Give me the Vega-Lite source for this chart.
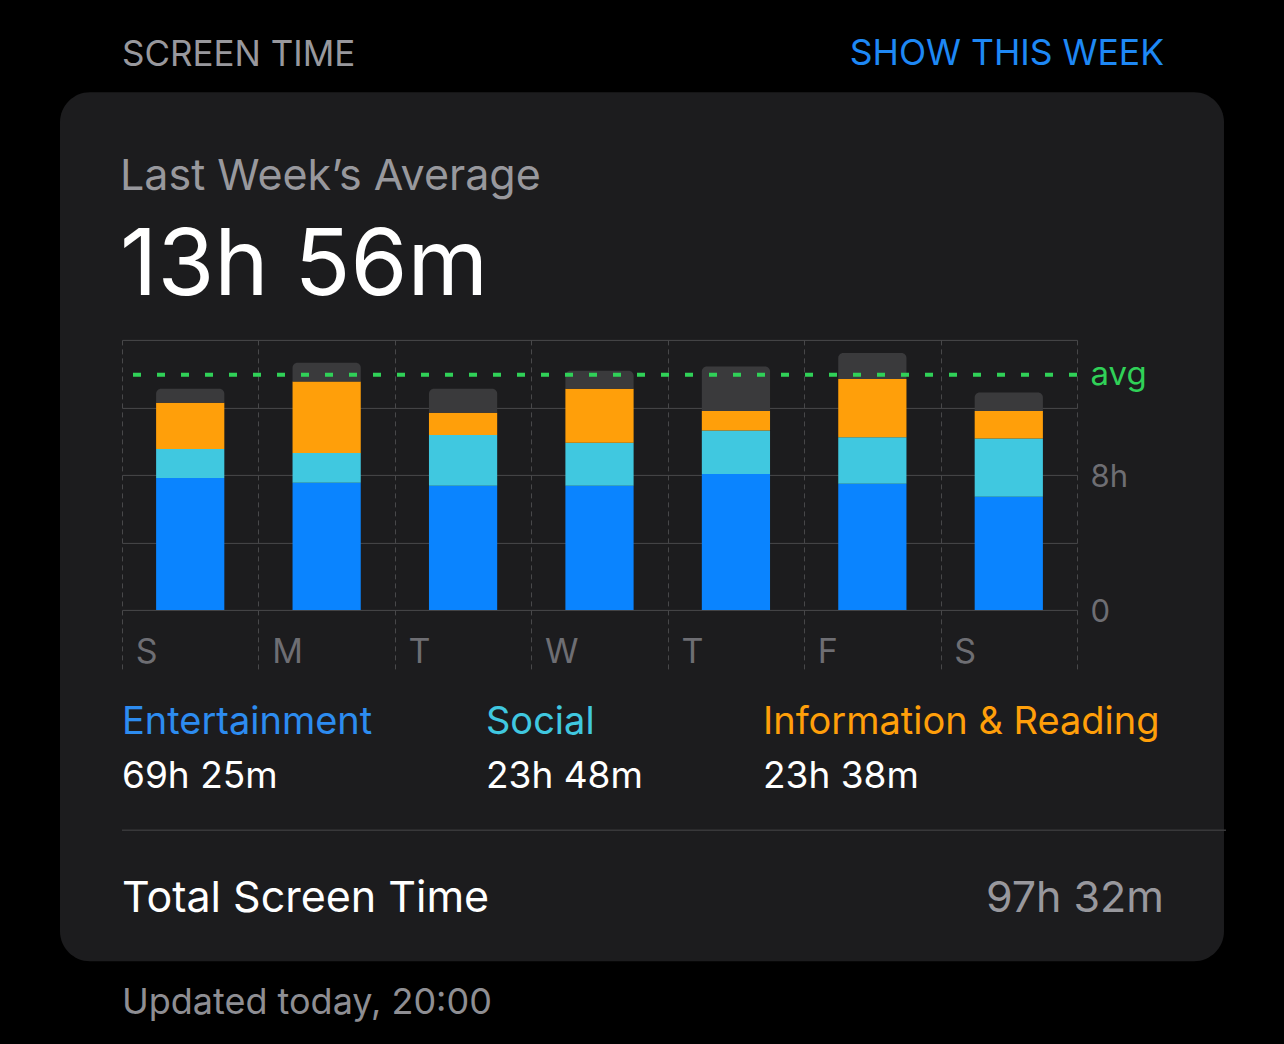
{
  "$schema": "https://vega.github.io/schema/vega-lite/v6.json",
  "background": "#000000",
  "padding": {"left": 60, "top": 36.3, "right": 60, "bottom": 30},
  "autosize": {"type": "pad"},
  "columns": 1,
  "align": "none",
  "spacing": -924.7,
  "concat": [
    {
      "width": 1164,
      "height": 869,
      "view": {"fill": "#1c1c1e", "cornerRadius": 30, "stroke": null},
      "data": {"values": []},
      "mark": "rect"
    },
    {
      "spacing": 20,
      "hconcat": [
        {"width": 40, "height": 1, "data": {"values": []}, "mark": "rect"},
        {
          "spacing": 34.3,
          "vconcat": [
            {
              "spacing": 0,
              "hconcat": [
                {
                  "width": 521, "height": 48.7, "data": {"values": []}, "mark": "rect",
                  "title": {"text": "SCREEN TIME", "anchor": "start", "offset": 0, "fontSize": 35, "color": "#98989d"}
                },
                {
                  "width": 521, "height": 48.7, "data": {"values": []}, "mark": "rect",
                  "title": {"text": "SHOW THIS WEEK", "anchor": "end", "offset": 0, "fontSize": 35.5, "color": "#1e88f5"}
                }
              ]
            },
            {
              "width": 955,
              "height": 270,
              "title": {
                "text": "Last Week’s Average",
                "subtitle": "13h 56m",
                "anchor": "start",
                "offset": 14.3,
                "fontSize": 43,
                "color": "#98989d",
                "subtitleFontSize": 92,
                "subtitleColor": "#ffffff",
                "subtitlePadding": 22.4
              },
              "data": {
                "values": [
                  {"day": "Sun", "category": "Entertainment", "hours": 7.82},
                  {"day": "Sun", "category": "Social", "hours": 1.72},
                  {"day": "Sun", "category": "Information & Reading", "hours": 2.74},
                  {"day": "Sun", "category": "Other", "hours": 0.82},
                  {"day": "Mon", "category": "Entertainment", "hours": 7.53},
                  {"day": "Mon", "category": "Social", "hours": 1.77},
                  {"day": "Mon", "category": "Information & Reading", "hours": 4.23},
                  {"day": "Mon", "category": "Other", "hours": 1.11},
                  {"day": "Tue", "category": "Entertainment", "hours": 7.35},
                  {"day": "Tue", "category": "Social", "hours": 3.02},
                  {"day": "Tue", "category": "Information & Reading", "hours": 1.32},
                  {"day": "Tue", "category": "Other", "hours": 1.41},
                  {"day": "Wed", "category": "Entertainment", "hours": 7.35},
                  {"day": "Wed", "category": "Social", "hours": 2.55},
                  {"day": "Wed", "category": "Information & Reading", "hours": 3.2},
                  {"day": "Wed", "category": "Other", "hours": 1.07},
                  {"day": "Thu", "category": "Entertainment", "hours": 8.06},
                  {"day": "Thu", "category": "Social", "hours": 2.57},
                  {"day": "Thu", "category": "Information & Reading", "hours": 1.16},
                  {"day": "Thu", "category": "Other", "hours": 2.63},
                  {"day": "Fri", "category": "Entertainment", "hours": 7.47},
                  {"day": "Fri", "category": "Social", "hours": 2.76},
                  {"day": "Fri", "category": "Information & Reading", "hours": 3.46},
                  {"day": "Fri", "category": "Other", "hours": 1.54},
                  {"day": "Sat", "category": "Entertainment", "hours": 6.7},
                  {"day": "Sat", "category": "Social", "hours": 3.45},
                  {"day": "Sat", "category": "Information & Reading", "hours": 1.64},
                  {"day": "Sat", "category": "Other", "hours": 1.09}
                ]
              },
              "transform": [{"stack": "hours", "groupby": ["day"], "as": ["h0", "h1"]}],
              "layer": [
                {
                  "transform": [{"filter": "datum.category !== 'Other'"}],
                  "mark": {"type": "bar", "width": {"band": 0.5}},
                  "encoding": {
                    "x": {
                      "field": "day", "type": "nominal", "title": null,
                      "sort": ["Sun", "Mon", "Tue", "Wed", "Thu", "Fri", "Sat"],
                      "scale": {"paddingInner": 0, "paddingOuter": 0},
                      "axis": {
                        "orient": "bottom", "tickBand": "extent", "title": null,
                        "grid": true, "gridColor": "#48484a", "gridDash": [5, 4], "gridWidth": 1,
                        "ticks": true, "tickSize": 59, "tickColor": "#48484a", "tickDash": [5, 4], "tickWidth": 1,
                        "domain": false, "labelAngle": 0, "labelAlign": "left", "labelOffset": -55, "labelPadding": -33,
                        "labelFont": "Inter", "labelFontSize": 34, "labelColor": "#6e6e73",
                        "labelExpr": "substring(datum.label, 0, 1)",
                        "labelOverlap": false, "labelBound": false, "labelFlush": false
                      }
                    },
                    "y": {
                      "field": "h1", "type": "quantitative", "title": null,
                      "scale": {"domain": [0, 16], "nice": false},
                      "axis": {
                        "orient": "right", "title": null,
                        "values": [0, 4, 8, 12, 13.93, 16],
                        "labelExpr": "datum.value == 0 ? '0' : datum.value == 8 ? '8h' : (datum.value > 13 && datum.value < 15) ? 'avg' : ''",
                        "grid": true, "gridColor": "#48484a", "gridWidth": 1,
                        "gridOpacity": {"condition": {"test": "datum.value > 13 && datum.value < 15", "value": 0}, "value": 1},
                        "ticks": false, "domain": false, "labelPadding": 13,
                        "labelFont": "Inter",
                        "labelFontSize": {"condition": {"test": "datum.value > 13 && datum.value < 15", "value": 33}, "value": 31},
                        "labelColor": {"condition": {"test": "datum.value > 13 && datum.value < 15", "value": "#30d158"}, "value": "#6e6e73"},
                        "labelOffset": {"condition": {"test": "datum.value > 13 && datum.value < 15", "value": 0}, "value": 3},
                        "labelOverlap": false, "labelBound": false, "labelFlush": false
                      }
                    },
                    "y2": {"field": "h0"},
                    "color": {
                      "field": "category", "type": "nominal", "legend": null,
                      "scale": {
                        "domain": ["Entertainment", "Social", "Information & Reading", "Other"],
                        "range": ["#0a84ff", "#40c8e0", "#ff9f0a", "#3a3a3c"]
                      }
                    }
                  }
                },
                {
                  "transform": [{"filter": "datum.category === 'Other'"}],
                  "mark": {"type": "bar", "width": {"band": 0.5}, "cornerRadiusTopLeft": 5, "cornerRadiusTopRight": 5},
                  "encoding": {
                    "x": {"field": "day", "type": "nominal", "title": null, "sort": ["Sun", "Mon", "Tue", "Wed", "Thu", "Fri", "Sat"]},
                    "y": {"field": "h1", "type": "quantitative", "title": null},
                    "y2": {"field": "h0"},
                    "color": {"field": "category", "type": "nominal", "legend": null}
                  }
                },
                {
                  "transform": [
                    {"aggregate": [{"op": "sum", "field": "hours", "as": "total"}], "groupby": ["day"]},
                    {"aggregate": [{"op": "mean", "field": "total", "as": "avg"}]}
                  ],
                  "mark": {"type": "rule", "color": "#30d158", "strokeWidth": 4, "strokeDash": [8, 16]},
                  "encoding": {"y": {"field": "avg", "type": "quantitative", "title": null}}
                }
              ]
            },
            {
              "spacing": 0,
              "hconcat": [
                {
                  "width": 364, "height": 1, "data": {"values": []}, "mark": "rect",
                  "title": {"text": "Entertainment", "subtitle": "69h 25m", "anchor": "start", "offset": -1, "fontSize": 38, "color": "#2d8cf0", "subtitleFontSize": 37, "subtitleColor": "#ffffff", "subtitlePadding": 17}
                },
                {
                  "width": 277, "height": 1, "data": {"values": []}, "mark": "rect",
                  "title": {"text": "Social", "subtitle": "23h 48m", "anchor": "start", "offset": -1, "fontSize": 38, "color": "#40c8e0", "subtitleFontSize": 37, "subtitleColor": "#ffffff", "subtitlePadding": 17}
                },
                {
                  "width": 401, "height": 1, "data": {"values": []}, "mark": "rect",
                  "title": {"text": "Information & Reading", "subtitle": "23h 38m", "anchor": "start", "offset": -1, "fontSize": 38, "color": "#ff9f0a", "subtitleFontSize": 37, "subtitleColor": "#ffffff", "subtitlePadding": 17}
                }
              ]
            },
            {
              "spacing": 0,
              "hconcat": [
                {
                  "width": 521, "height": 1.5, "view": {"fill": "#38383a", "stroke": null}, "data": {"values": []}, "mark": "rect",
                  "title": {"text": "Total Screen Time", "orient": "bottom", "anchor": "start", "offset": 46.6, "fontSize": 43, "color": "#ffffff"}
                },
                {
                  "width": 583, "height": 1.5, "view": {"fill": "#38383a", "stroke": null}, "data": {"values": []}, "mark": "rect",
                  "title": {"text": "97h 32m", "orient": "bottom", "anchor": "end", "dx": -62, "offset": 46.6, "fontSize": 43, "color": "#98989d"}
                }
              ]
            },
            {
              "width": 1042, "height": 1, "data": {"values": []}, "mark": "rect",
              "title": {"text": "Updated today, 20:00", "orient": "bottom", "anchor": "start", "offset": 29, "fontSize": 36, "color": "#8e8e93"}
            }
          ]
        }
      ]
    }
  ],
  "config": {
    "font": "Inter",
    "view": {"stroke": null},
    "title": {"font": "Inter", "fontWeight": "normal", "subtitleFont": "Inter", "subtitleFontWeight": "normal"}
  }
}
